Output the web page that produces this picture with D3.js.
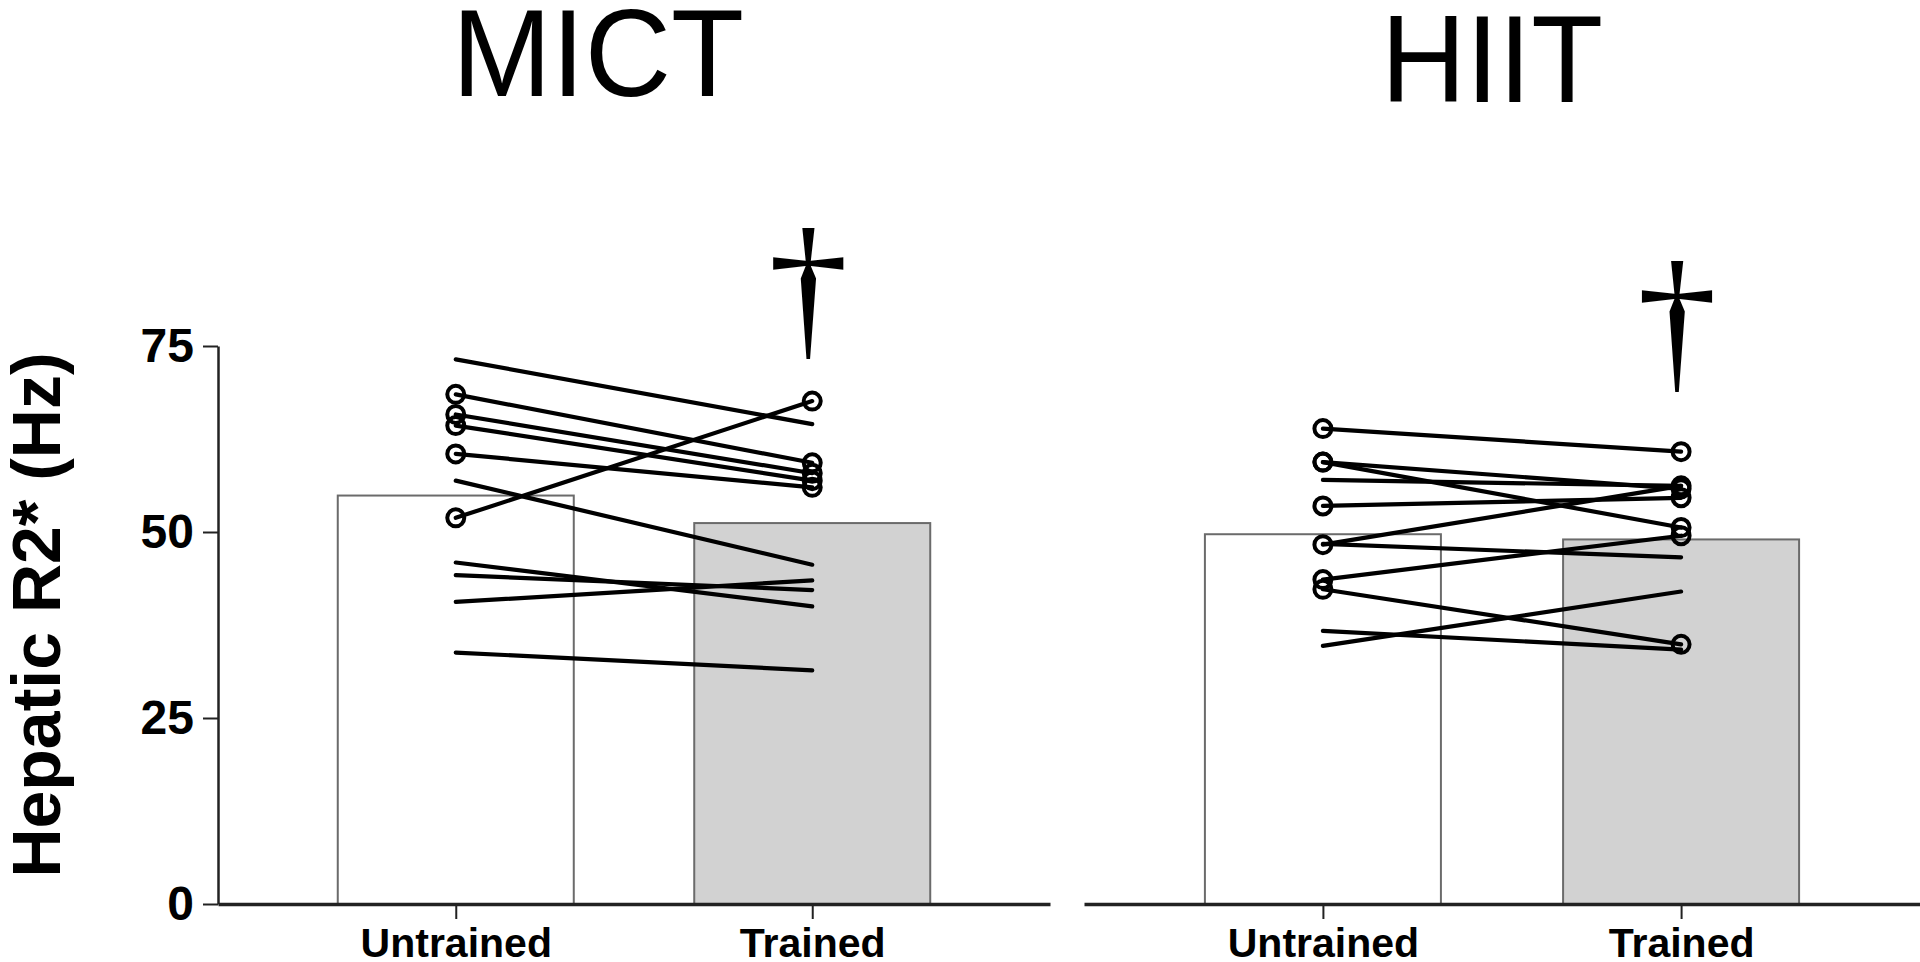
<!DOCTYPE html>
<html>
<head>
<meta charset="utf-8">
<script src="https://cdn.jsdelivr.net/npm/d3@7"></script>
<style>
  html, body { margin: 0; padding: 0; background: #fff; }
  svg { display: block; font-family: 'Liberation Sans', Arial, sans-serif; }
</style>
</head>
<body>
<div class="canvas"></div>
<script>
// data (Hz)
const groups = ['MICT', 'HIIT'];
const conditions = ['Untrained', 'Trained'];
const yTicks = [0, 25, 50, 75];

const mictMeans = [54.9, 51.2];
const hiitMeans = [49.7, 49.0];

// subjects drawn with circle symbols: [untrained, trained]
const mictMarked = [[68.5, 59.3], [65.8, 57.9], [64.3, 56.9], [60.5, 56.0], [51.9, 67.6]];
const hiitMarked = [[63.9, 60.8], [59.4, 55.8], [59.4, 50.6], [53.5, 54.6], [48.3, 56.2], [43.6, 49.5], [42.3, 34.9]];

// subjects drawn as lines only
const mictPlain = [[73.2, 64.5], [56.9, 45.6], [45.9, 40.0], [44.2, 42.2], [40.6, 43.5], [33.8, 31.4]];
const hiitPlain = [[57.0, 56.2], [48.4, 46.6], [36.7, 34.2], [34.7, 42.0]];

// significance marks over the trained column (value at the mark's baseline)
const marks = ['\u2020', '\u2020'];
const markAt = [75.8, 71.4];

const width = 1920;
const height = 962;

const svg = d3
  .select('.canvas')
  .append('svg')
  .attr('width', width)
  .attr('height', height);

// shared y scale
const y = d3.scaleLinear().domain([0, 75]).range([904, 346]);

const panels = [
  { name: groups[0], means: mictMeans, marked: mictMarked, plain: mictPlain, range: [218, 1050], titleX: 452, titleY: 96, titleW: 292 },
  { name: groups[1], means: hiitMeans, marked: hiitMarked, plain: hiitPlain, range: [1084, 1920], titleX: 1381, titleY: 102, titleW: 222 }
];

const barWidth = 236;

panels.forEach((p, k) => {
  const x = d3
    .scalePoint()
    .domain(conditions)
    .range(p.range)
    .padding(0.667);

  const g = svg.append('g');

  // bars
  g.selectAll('rect')
    .data(p.means)
    .enter()
    .append('rect')
    .attr('x', (d, i) => x(conditions[i]) - barWidth / 2)
    .attr('y', d => y(d))
    .attr('width', barWidth)
    .attr('height', d => y(0) - y(d))
    .attr('fill', (d, i) => (i === 0 ? '#fff' : '#d2d2d2'))
    .attr('stroke', '#6b6b6b')
    .attr('stroke-width', 2);

  // before-after lines
  const line = d3
    .line()
    .x((d, i) => x(conditions[i]))
    .y(d => y(d));

  g.selectAll('path.subject')
    .data(p.plain.concat(p.marked))
    .enter()
    .append('path')
    .attr('class', 'subject')
    .attr('d', line)
    .attr('fill', 'none')
    .attr('stroke', '#000')
    .attr('stroke-width', 4.2)
    .attr('stroke-linecap', 'round');

  // circle symbols
  const pts = [];
  p.marked.forEach(pair => pair.forEach((v, i) => pts.push({ c: conditions[i], v })));

  g.selectAll('circle')
    .data(pts)
    .enter()
    .append('circle')
    .attr('cx', d => x(d.c))
    .attr('cy', d => y(d.v))
    .attr('r', 8.5)
    .attr('fill', 'none')
    .attr('stroke', '#000')
    .attr('stroke-width', 4);

  // x axis
  const xAxis = d3
    .axisBottom(x)
    .tickSize(15)
    .tickSizeOuter(0)
    .tickPadding(10);

  const xAxisGroup = g
    .append('g')
    .attr('transform', `translate(0, ${y(0)})`)
    .call(xAxis);

  xAxisGroup.select('.domain').attr('stroke', '#222').attr('stroke-width', 3.5);
  xAxisGroup.selectAll('.tick line').attr('stroke', '#222').attr('stroke-width', 2);
  xAxisGroup
    .selectAll('.tick text')
    .attr('fill', '#000')
    .style('font-size', '41px')
    .style('font-weight', 'bold')
    .attr('y', 53)
    .attr('dy', 0);

  // title
  g.append('text')
    .attr('x', p.titleX)
    .attr('y', p.titleY)
    .attr('textLength', p.titleW)
    .attr('lengthAdjust', 'spacingAndGlyphs')
    .style('font-size', '125px')
    .text(p.name);

  // dagger
  g.append('text')
    .attr('x', x(conditions[1]) - 4)
    .attr('y', y(markAt[k]))
    .attr('text-anchor', 'middle')
    .style('font-family', "'Liberation Serif', serif")
    .style('font-size', '160px')
    .text(marks[k]);
});

// y axis (left panel only)
const yAxis = d3
  .axisLeft(y)
  .tickValues(yTicks)
  .tickSize(15)
  .tickSizeOuter(0)
  .tickPadding(9);

const yAxisGroup = svg
  .append('g')
  .attr('transform', 'translate(218, 0)')
  .call(yAxis);

yAxisGroup.select('.domain').attr('stroke', '#222').attr('stroke-width', 2.5);
yAxisGroup.selectAll('.tick line').attr('stroke', '#222').attr('stroke-width', 2);
yAxisGroup
  .selectAll('.tick text')
  .attr('fill', '#000')
  .style('font-size', '48px')
  .style('font-weight', 'bold');

svg
  .append('text')
  .attr('transform', 'translate(60, 615) rotate(-90)')
  .attr('text-anchor', 'middle')
  .style('font-size', '68px')
  .style('font-weight', 'bold')
  .text('Hepatic R2* (Hz)');
</script>
</body>
</html>
